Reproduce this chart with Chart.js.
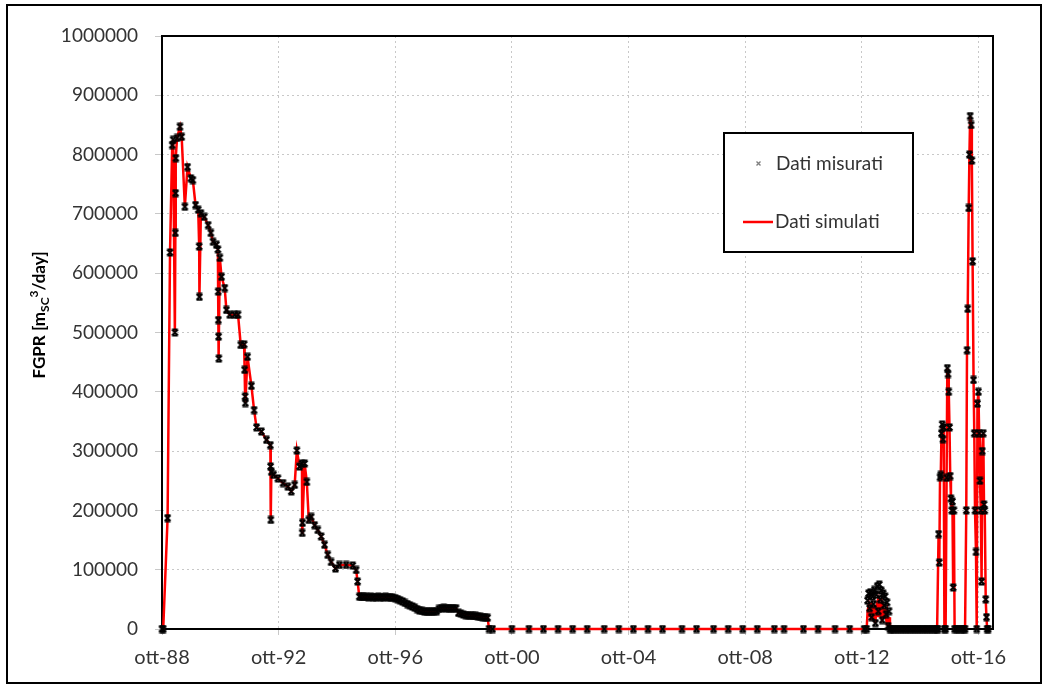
<!DOCTYPE html>
<html>
<head>
<meta charset="utf-8">
<script src="https://cdn.jsdelivr.net/npm/chart.js@4.4.1/dist/chart.umd.min.js"></script>
<style>
  html, body { margin: 0; padding: 0; background: #ffffff; }
  canvas { display: block; }
</style>
</head>
<body>
<canvas id="fgpr" width="1048" height="689"></canvas>
<script>
// Time axis: months counted from October 1988
const months = [
  0, 0.5, 2.3, 3.3, 4.2, 4.6, 5.3, 5.5, 5.6, 5.7,
  6.2, 7.4, 8.1, 9.4, 10.5, 11.9, 12.7, 13.8, 14.9, 15.3,
  15.4, 16, 17.4, 19, 20.1, 21, 22.4, 23, 23.1, 23.2,
  23.3, 23.4, 23.8, 24.5, 25.8, 26.5, 27.9, 29.9, 31.3, 32.4,
  33.8, 34, 34.2, 34.3, 35.2, 36.8, 37.9, 38.9, 40.9, 43,
  44.6, 44.7, 44.8, 45, 45.9, 47.7, 49.8, 51.8, 53.2, 54.6,
  55.5, 56.6, 57.6, 57.7, 57.8, 58.7, 59.6, 60.4, 61.4, 62.8,
  64.1, 65.5, 66.9, 68.2, 69.6, 71.4, 73, 75.8, 78.5, 79.9,
  80.5, 81.2, 82, 83, 84, 85, 86, 87, 88, 89,
  90, 91, 92, 93, 94, 95, 96, 97, 98, 99,
  100, 101, 102, 103, 104, 105, 106, 107, 108, 109,
  110, 111, 112, 113, 114, 115, 116, 117, 118, 119,
  120, 121, 122, 123, 124, 125, 126, 127, 128, 129,
  130, 131, 132, 133, 134, 134.6, 136, 144, 151, 157,
  163, 169, 175, 182, 188, 194, 200, 206, 214, 220,
  227, 233, 239, 245, 252, 256, 264, 270, 277, 283,
  289, 290, 290.4, 290.8, 291.2, 291.6, 292, 292.4, 292.8, 293.2,
  293.6, 294, 294.4, 294.8, 295.2, 295.6, 296, 296.4, 296.8, 297.2,
  297.6, 298, 298.4, 298.8, 299.2, 299.6, 300, 301, 302, 303,
  304, 305, 306, 307, 308, 309, 310, 311, 312, 313,
  314, 315, 316, 317, 318, 319, 319.3, 319.6, 319.9, 320.2,
  320.5, 320.8, 321.1, 321.4, 321.7, 322, 322.5, 322.9, 323.2, 323.5,
  323.8, 324.1, 324.4, 324.7, 325, 325.3, 325.6, 325.9, 326.2, 327,
  328, 329, 330, 330.5, 331, 331.3, 331.6, 332, 332.3, 332.6,
  333, 333.3, 333.6, 334, 334.3, 334.6, 335, 335.3, 335.6, 336,
  336.3, 336.6, 337, 337.3, 337.6, 338, 338.3, 338.6, 339, 339.3,
  339.6, 340
];

// Dati misurati, gas rate [m3/day]
const measured = [
  0, 0, 187000, 635000, 816000, 825000, 500000, 668000, 735000, 794000,
  828000, 847000, 830000, 712000, 779000, 760000, 757000, 715000, 707000, 645000,
  560000, 701000, 695000, 681000, 668000, 653000, 648000, 640000, 569000, 521000,
  493000, 456000, 626000, 594000, 575000, 538000, 530000, 530000, 530000, 479000,
  480000, 437000, 392000, 381000, 459000, 410000, 369000, 340000, 333000, 319000,
  310000, 274000, 184000, 265000, 260000, 254000, 246000, 240000, 232000, 243000,
  301000, 274000, 279000, 162000, 179000, 279000, 248000, 184000, 189000, 175000,
  167000, 156000, 142000, 125000, 113000, 102000, 108000, 108000, 107000, 99500,
  80000, 54500, 54000, 54200, 54000, 53800, 54000, 53900, 53700, 54000,
  53800, 53500, 54000, 53600, 53500, 53000, 52000, 50500, 48500, 46500,
  44000, 42000, 40000, 38000, 36000, 33500, 31500, 30500, 29500, 29000,
  29200, 29000, 29500, 30000, 34000, 35000, 35500, 35000, 35200, 35000,
  34800, 35000, 27000, 26000, 24500, 23500, 23000, 22500, 22000, 22000,
  21000, 20500, 20000, 19700, 19000, 0, 0, 0, 0, 0,
  0, 0, 0, 0, 0, 0, 0, 0, 0, 0,
  0, 0, 0, 0, 0, 0, 0, 0, 0, 0,
  0, 0, 48000, 60000, 35000, 62000, 20000, 55000, 42000, 66000,
  10000, 58000, 72000, 30000, 75000, 50000, 65000, 15000, 60000, 40000,
  55000, 25000, 45000, 5000, 30000, 0, 0, 0, 0, 0,
  0, 0, 0, 0, 0, 0, 0, 0, 0, 0,
  0, 0, 0, 0, 0, 0, 0, 160000, 112000, 256000,
  260000, 330000, 345000, 320000, 340000, 0, 0, 255000, 440000, 430000,
  400000, 340000, 258000, 220000, 200000, 215000, 70000, 200000, 0, 0,
  0, 0, 0, 0, 200000, 470000, 540000, 710000, 800000, 865000,
  850000, 790000, 620000, 420000, 330000, 200000, 130000, 0, 380000, 400000,
  330000, 250000, 200000, 80000, 300000, 330000, 210000, 200000, 50000, 20000,
  0, 0
];

// Dati simulati, gas rate [m3/day]
const simulated = [
  0, 0, 187000, 635000, 816000, 825000, 500000, 668000, 735000, 794000,
  828000, 847000, 830000, 712000, 779000, 760000, 757000, 715000, 707000, 645000,
  560000, 701000, 695000, 681000, 668000, 653000, 648000, 640000, 569000, 521000,
  493000, 456000, 626000, 594000, 575000, 538000, 530000, 530000, 530000, 479000,
  480000, 437000, 392000, 381000, 459000, 410000, 369000, 340000, 333000, 319000,
  310000, 274000, 184000, 265000, 260000, 254000, 246000, 240000, 232000, 243000,
  301000, 274000, 279000, 162000, 179000, 279000, 248000, 184000, 189000, 175000,
  167000, 156000, 142000, 125000, 113000, 102000, 108000, 108000, 107000, 99500,
  80000, 54500, 54000, 54200, 54000, 53800, 54000, 53900, 53700, 54000,
  53800, 53500, 54000, 53600, 53500, 53000, 52000, 50500, 48500, 46500,
  44000, 42000, 40000, 38000, 36000, 33500, 31500, 30500, 29500, 29000,
  29200, 29000, 29500, 30000, 34000, 35000, 35500, 35000, 35200, 35000,
  34800, 35000, 27000, 26000, 24500, 23500, 23000, 22500, 22000, 22000,
  21000, 20500, 20000, 19700, 19000, 0, 0, 0, 0, 0,
  0, 0, 0, 0, 0, 0, 0, 0, 0, 0,
  0, 0, 0, 0, 0, 0, 0, 0, 0, 0,
  0, 0, 30000, 40000, 20000, 45000, 15000, 35000, 25000, 40000,
  10000, 38000, 45000, 20000, 42000, 30000, 40000, 12000, 35000, 25000,
  30000, 18000, 28000, 5000, 20000, 0, 0, 0, 0, 0,
  0, 0, 0, 0, 0, 0, 0, 0, 0, 0,
  0, 0, 0, 0, 0, 0, 0, 160000, 112000, 256000,
  260000, 330000, 345000, 320000, 340000, 0, 0, 255000, 440000, 430000,
  400000, 340000, 258000, 220000, 200000, 215000, 70000, 200000, 0, 0,
  0, 0, 0, 0, 200000, 470000, 540000, 710000, 800000, 865000,
  850000, 790000, 620000, 420000, 330000, 200000, 130000, 0, 380000, 400000,
  330000, 250000, 200000, 80000, 300000, 330000, 210000, 200000, 50000, 20000,
  0, 0
];

const xTickMonths = [0, 48, 96, 144, 192, 240, 288, 336];
const xTickLabels = ['ott-88', 'ott-92', 'ott-96', 'ott-00', 'ott-04', 'ott-08', 'ott-12', 'ott-16'];
const seriesNames = ['Dati misurati', 'Dati simulati'];

const FONT = 'Lato, "Open Sans", sans-serif';
const TEXT = '#333333';

// "x" marker with short caps, drawn once and reused for every point
function makeMarker(size, color, width, caps) {
  const c = document.createElement('canvas');
  c.width = size; c.height = size;
  const g = c.getContext('2d');
  g.strokeStyle = color;
  g.lineWidth = width;
  const p = 1.5, q = size - 1.5;
  g.beginPath();
  g.moveTo(p, p); g.lineTo(q, q);
  g.moveTo(q, p); g.lineTo(p, q);
  if (caps) {
    g.moveTo(p, p); g.lineTo(q, p);
    g.moveTo(p, q); g.lineTo(q, q);
  }
  g.stroke();
  return c;
}
const pointMarker = makeMarker(9, '#000000', 1.8, true);
const legendMarker = makeMarker(7, '#7f7f7f', 1.4, false);

const toXY = (vals) => months.map((m, i) => ({ x: m, y: vals[i] }));

const decorations = {
  id: 'decorations',
  beforeDraw(chart) {
    const ctx = chart.ctx;
    ctx.save();
    ctx.fillStyle = '#ffffff';
    ctx.fillRect(0, 0, chart.width, chart.height);
    ctx.restore();
  },
  beforeDatasetsDraw(chart) {
    // plot frame sits under the series
    const ctx = chart.ctx;
    const a = chart.chartArea;
    ctx.save();
    ctx.strokeStyle = '#000000';
    ctx.lineWidth = 2;
    ctx.strokeRect(a.left, a.top, a.right - a.left, a.bottom - a.top);
    ctx.restore();
  },
  afterDraw(chart) {
    const ctx = chart.ctx;
    ctx.save();
    // outer frame
    ctx.strokeStyle = '#000000';
    ctx.lineWidth = 2;
    ctx.strokeRect(7, 5, 1034, 678);

    // y axis title with subscript and superscript
    ctx.translate(39, 315);
    ctx.rotate(-Math.PI / 2);
    ctx.fillStyle = '#000000';
    ctx.textBaseline = 'alphabetic';
    const big = 'bold 17px ' + FONT;
    const small = 'bold 12px ' + FONT;
    const parts = [
      { t: 'FGPR [m', f: big, dy: 0 },
      { t: 'SC', f: small, dy: 4 },
      { t: '3', f: small, dy: -7 },
      { t: '/day]', f: big, dy: 0 }
    ];
    let total = 0;
    parts.forEach(p => { ctx.font = p.f; p.w = ctx.measureText(p.t).width; total += p.w; });
    let x = -total / 2;
    const base = 6;
    parts.forEach(p => {
      ctx.font = p.f;
      ctx.fillText(p.t, x, base + p.dy);
      x += p.w;
    });
    ctx.restore();

    // legend
    ctx.save();
    ctx.strokeStyle = '#000000';
    ctx.lineWidth = 2;
    ctx.fillStyle = '#ffffff';
    ctx.fillRect(724, 133, 189, 119);
    ctx.strokeRect(724, 133, 189, 119);
    ctx.drawImage(legendMarker, 755, 160);
    ctx.strokeStyle = '#ff0000';
    ctx.lineWidth = 2.5;
    ctx.beginPath();
    ctx.moveTo(743, 222);
    ctx.lineTo(773, 222);
    ctx.stroke();
    ctx.fillStyle = TEXT;
    ctx.font = '19px ' + FONT;
    ctx.textBaseline = 'middle';
    ctx.fillText(seriesNames[0], 776, 164);
    ctx.fillText(seriesNames[1], 775, 222);
    ctx.restore();
  }
};

new Chart(document.getElementById('fgpr'), {
  type: 'line',
  data: {
    datasets: [
      {
        label: seriesNames[0],
        data: toXY(measured),
        showLine: false,
        pointStyle: pointMarker,
        pointRadius: 4,
        pointHoverRadius: 4,
        clip: false
      },
      {
        label: seriesNames[1],
        data: toXY(simulated),
        borderColor: '#ff0000',
        borderWidth: 2.5,
        pointRadius: 0,
        tension: 0,
        fill: false,
        clip: false
      }
    ]
  },
  options: {
    responsive: false,
    animation: false,
    devicePixelRatio: 1,
    layout: { padding: { top: 36, right: 55, left: 0, bottom: 0 } },
    plugins: {
      legend: { display: false },
      tooltip: { enabled: false },
      title: { display: false }
    },
    scales: {
      x: {
        type: 'linear',
        min: 0,
        max: 342,
        afterBuildTicks(scale) {
          scale.ticks = xTickMonths.map(v => ({ value: v }));
        },
        afterFit(scale) { scale.height = 60; },
        ticks: {
          autoSkip: false,
          maxRotation: 0,
          padding: 11,
          color: TEXT,
          font: { family: FONT, size: 20 },
          callback(v) {
            const i = xTickMonths.indexOf(v);
            return i >= 0 ? xTickLabels[i] : '';
          }
        },
        grid: {
          color: '#c8c8c8',
          lineWidth: 1,
          tickLength: 6,
          tickColor: '#c8c8c8'
        },
        border: { display: false, dash: [2, 3] }
      },
      y: {
        min: 0,
        max: 1000000,
        afterFit(scale) { scale.width = 162; },
        ticks: {
          stepSize: 100000,
          padding: 17,
          color: TEXT,
          font: { family: FONT, size: 19 },
          callback: (v) => String(v)
        },
        grid: {
          color: '#c8c8c8',
          lineWidth: 1,
          tickLength: 7,
          tickColor: '#c8c8c8'
        },
        border: { display: false, dash: [2, 3] }
      }
    }
  },
  plugins: [decorations]
});
</script>
</body>
</html>
